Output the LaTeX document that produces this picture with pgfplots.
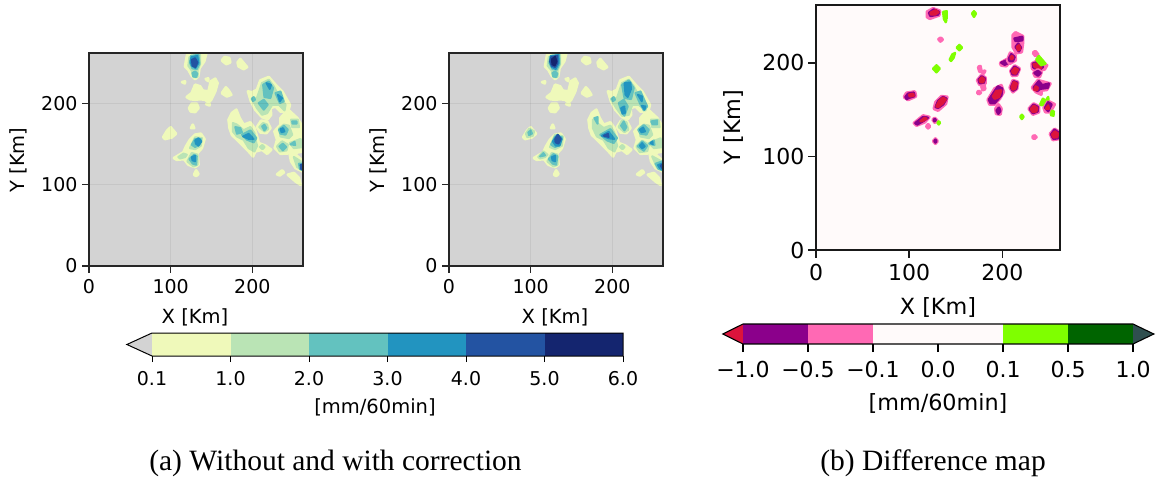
\documentclass[border=0pt]{standalone}
\usepackage{pgfplots}
\usepackage{fontspec}
\pgfplotsset{compat=1.18}
\setmainfont{DejaVu Sans}
\newfontfamily\capfont{Liberation Serif}
\definecolor{yl}{HTML}{EFF9BA}
\definecolor{gn}{HTML}{BAE4B5}
\definecolor{te}{HTML}{63C2BF}
\definecolor{bl}{HTML}{2294C0}
\definecolor{db}{HTML}{2353A2}
\definecolor{nv}{HTML}{14256F}
\definecolor{bg}{HTML}{D3D3D3}
\definecolor{sn}{HTML}{FFFAFA}
\definecolor{pk}{HTML}{FF69B4}
\definecolor{pu}{HTML}{8B008B}
\definecolor{cr}{HTML}{DC143C}
\definecolor{lg}{HTML}{7FFF00}
\definecolor{dg}{HTML}{006400}
\definecolor{sl}{HTML}{2F4F4F}
\tikzset{s-yl/.style={line width=2.8pt},s-gn/.style={line width=2.2pt},s-te/.style={line width=2pt},
 s-bl/.style={line width=1.8pt},s-db/.style={line width=1.8pt},s-nv/.style={line width=1.5pt},
 s-pk/.style={line width=3.2pt},s-pu/.style={line width=2.6pt},s-cr/.style={line width=2.4pt},s-lg/.style={line width=2.4pt}}
\newcommand\B[2]{\addplot[fill=#1,draw=#1,s-#1,line join=round] coordinates {#2} -- cycle;}
\newcommand\Yellow{%
\B{yl}{(322,42)(378,42)(372,65)(358,85)(354,110)(345,118)(335,108)(325,90)(315,80)(318,62)}
\B{yl}{(306,127)(315,125)(314,131)}
\B{yl}{(377,118)(384,116)(384,124)}
\B{yl}{(425,62)(433,52)(447,55)(450,68)(438,73)}
\B{yl}{(472,68)(480,58)(490,70)(500,82)(490,88)(475,80)}
\B{yl}{(320,172)(335,160)(345,135)(360,140)(368,153)(385,155)(392,125)(405,117)(412,130)(405,155)(393,180)(385,188)(375,180)(360,178)(345,180)(330,178)}
\B{yl}{(327,205)(335,192)(350,192)(355,205)(345,217)(332,215)}
\B{yl}{(425,160)(437,143)(445,152)(453,165)(440,170)(432,165)}
\B{yl}{(378,193)(388,192)(388,197)}
\B{yl}{(503,155)(515,158)(530,150)(540,122)(565,112)(585,135)(605,155)(628,195)(622,218)(600,215)(585,200)(570,205)(572,225)(562,238)(545,232)(525,210)(512,185)}
\B{yl}{(530,262)(542,243)(560,245)(570,265)(558,280)(540,278)}
\B{yl}{(600,235)(612,222)(625,212)(650,235)(662,255)(668,290)(668,335)(640,340)(600,342)(583,325)(590,300)(582,275)(600,255)}
\B{yl}{(628,345)(640,340)(668,365)(668,396)(645,385)(632,365)}
\B{yl}{(445,240)(455,220)(468,210)(478,235)(490,255)(510,248)(522,265)(530,290)(535,310)(555,318)(572,330)(560,342)(545,330)(525,335)(518,350)(505,335)(490,320)(470,300)(455,285)(448,265)}
\B{yl}{(250,292)(262,272)(272,263)(288,282)(275,293)(255,298)}
\B{yl}{(333,265)(338,255)(342,265)}
\B{yl}{(282,355)(310,338)(318,320)(330,300)(345,285)(362,282)(373,298)(365,325)(352,340)(355,375)(345,382)(325,375)(312,358)(290,360)}
\B{yl}{(342,405)(348,392)(355,403)(348,409)}
\B{yl}{(590,404)(605,392)(610,398)(598,407)}
\B{yl}{(622,405)(640,400)(655,415)(660,435)(645,425)}
}
\newcommand\AxL[2]{%
\begin{axis}[at={(#1pt,216pt)},anchor=south west,scale only axis,width=214pt,height=213pt,
 xmin=0,xmax=262,ymin=0,ymax=262,xtick={0,100,200},ytick={0,100,200},
 xticklabels={0,100,200},yticklabels={0,100,200},xtick pos=bottom,ytick pos=left,
 x filter/.code={\pgfmathparse{(##1-28)/2.44}},y filter/.code={\pgfmathparse{(679-##1)/2.44}},
 axis background/.style={fill=bg},
 axis line style={line width=1.4pt,black!85},tick style={line width=1.2pt,black!85},tick align=outside,
 major tick length=7pt,tick label style={font=\fontsize{19}{21}\selectfont},
 xticklabel style={yshift=-2.5pt},yticklabel style={xshift=-1pt},
 grid=major,grid style={black,opacity=0.06,line width=1.5pt},axis on top]
\Yellow
#2
\end{axis}}
\begin{document}
\begin{tikzpicture}[x=1pt,y=1pt]
\useasboundingbox (0,0) rectangle (1159,482);
% ---------- left panel
\AxL{89}{%
\B{gn}{(328,52)(360,46)(360,72)(352,92)(352,112)(340,112)(335,92)(325,78)}
\B{te}{(333,48)(355,45)(358,72)(350,88)(337,86)(330,70)}
\B{te}{(337,100)(345,95)(352,102)(348,112)(339,110)}
\B{bl}{(334,52)(352,48)(355,70)(346,85)(335,78)(331,65)}
\B{db}{(335,60)(345,55)(352,68)(346,82)(337,78)}
\B{gn}{(515,178)(530,175)(545,130)(565,120)(580,140)(590,160)(615,195)(612,212)(595,195)(575,195)(560,220)(545,225)(530,205)}
\B{te}{(548,135)(565,125)(578,145)(570,175)(552,172)}
\B{te}{(585,160)(600,155)(610,185)(598,190)}
\B{te}{(535,190)(550,180)(562,195)(550,210)}
\B{bl}{(558,130)(572,135)(568,148)}
\B{bl}{(592,165)(605,175)(598,185)}
\B{te}{(514,177)(520,172)(524,180)(518,184)}
\B{gn}{(537,262)(548,250)(560,255)(563,268)(552,275)}
\B{te}{(545,260)(552,255)(558,265)(552,272)}
\B{gn}{(597,265)(610,255)(625,258)(635,285)(625,295)(600,290)}
\B{te}{(595,270)(610,258)(622,270)(615,285)(600,282)}
\B{bl}{(600,268)(608,265)(612,275)(603,278)}
\B{gn}{(632,240)(652,240)(655,262)(635,262)}
\B{te}{(635,245)(648,245)(648,252)(636,252)}
\B{gn}{(590,320)(605,305)(622,315)(618,332)(598,335)}
\B{te}{(597,320)(607,312)(617,322)(607,332)}
\B{gn}{(628,310)(660,298)(666,322)(640,325)}
\B{te}{(630,314)(642,306)(644,316)}
\B{gn}{(640,352)(668,370)(668,392)(650,382)}
\B{te}{(655,372)(668,372)(668,392)(658,388)}
\B{db}{(660,375)(668,374)(668,390)(661,388)}
\B{gn}{(458,250)(470,255)(490,272)(510,262)(522,280)(525,300)(530,318)(522,335)(505,325)(490,300)(470,290)(458,275)}
\B{te}{(465,262)(480,265)(485,278)(470,282)}
\B{te}{(485,285)(510,272)(528,295)(520,308)(500,300)}
\B{bl}{(488,290)(505,282)(520,298)(505,298)}
\B{gn}{(539,322)(546,316)(552,322)(546,328)}
\B{gn}{(295,352)(310,342)(320,345)(315,352)(300,356)}
\B{gn}{(330,325)(345,293)(365,295)(362,318)(345,328)}
\B{gn}{(322,365)(335,340)(352,345)(352,375)(340,380)}
\B{te}{(335,315)(345,298)(362,298)(358,315)(345,322)}
\B{te}{(328,358)(342,345)(350,350)(348,375)(338,372)}
\B{bl}{(345,302)(355,295)(364,305)(355,318)(347,312)}
\B{bl}{(335,352)(345,348)(345,365)(337,362)}
}
% ---------- middle panel
\AxL{449}{%
\B{gn}{(326,52)(360,46)(360,72)(352,92)(352,112)(340,112)(335,92)(323,78)}
\B{te}{(331,50)(357,45)(358,72)(350,90)(337,88)(328,70)}
\B{te}{(337,100)(345,95)(352,102)(348,112)(339,110)}
\B{bl}{(332,48)(355,46)(356,70)(347,88)(335,82)(329,65)}
\B{db}{(333,52)(352,48)(352,70)(345,82)(335,78)(330,65)}
\B{nv}{(335,58)(345,50)(350,65)(344,78)(336,74)}
\B{gn}{(258,282)(268,267)(282,275)(278,288)(262,292)}
\B{te}{(265,278)(272,272)(276,282)(267,286)}
\B{gn}{(512,178)(530,175)(545,130)(565,120)(580,140)(590,160)(618,195)(615,212)(595,195)(575,195)(565,225)(545,228)(528,205)}
\B{te}{(545,135)(565,122)(580,145)(572,178)(552,175)}
\B{te}{(585,160)(600,155)(620,200)(610,212)(598,190)}
\B{te}{(535,190)(550,180)(562,200)(552,228)(542,212)}
\B{bl}{(552,130)(570,128)(572,148)(562,172)(555,165)}
\B{bl}{(592,165)(605,170)(604,185)}
\B{bl}{(604,198)(615,200)(612,210)}
\B{bl}{(542,205)(552,200)(554,220)(546,222)}
\B{te}{(514,177)(520,172)(524,180)(518,184)}
\B{gn}{(535,262)(545,242)(558,248)(563,270)(552,277)}
\B{te}{(542,258)(550,245)(558,262)(552,272)}
\B{gn}{(597,265)(610,255)(625,258)(635,285)(625,295)(600,290)}
\B{te}{(593,270)(610,256)(625,270)(618,285)(600,282)}
\B{bl}{(598,270)(608,263)(614,275)(603,278)}
\B{gn}{(632,240)(654,240)(657,262)(635,262)}
\B{te}{(632,245)(650,242)(650,254)(636,254)}
\B{gn}{(588,320)(605,303)(625,315)(620,334)(598,337)}
\B{te}{(592,320)(605,305)(620,318)(610,333)}
\B{bl}{(598,318)(605,310)(613,320)(605,326)}
\B{gn}{(625,310)(660,296)(666,322)(640,325)}
\B{te}{(626,312)(640,302)(642,316)}
\B{bl}{(630,310)(636,305)(637,314)}
\B{gn}{(635,350)(668,368)(668,392)(650,384)}
\B{te}{(645,372)(668,364)(668,392)(654,388)}
\B{bl}{(652,376)(668,370)(668,392)(658,386)}
\B{db}{(660,378)(668,372)(668,390)}
\B{gn}{(458,240)(470,250)(490,265)(510,258)(522,280)(525,300)(530,318)(522,335)(505,325)(490,300)(470,290)(458,265)}
\B{te}{(462,235)(472,232)(472,252)}
\B{te}{(480,285)(510,268)(530,295)(520,310)(500,302)}
\B{bl}{(484,288)(505,276)(522,298)(505,296)}
\B{db}{(490,288)(503,282)(505,292)}
\B{gn}{(539,322)(546,316)(552,322)(546,328)}
\B{gn}{(295,352)(310,335)(322,345)(315,352)(300,356)}
\B{te}{(300,350)(310,340)(315,347)}
\B{gn}{(330,322)(345,285)(368,290)(365,318)(345,328)}
\B{gn}{(322,365)(335,340)(352,345)(352,375)(340,380)}
\B{te}{(333,315)(345,290)(365,292)(360,315)(345,322)}
\B{te}{(326,358)(340,343)(352,350)(348,375)(338,372)}
\B{bl}{(338,305)(352,285)(365,298)(358,318)(347,318)}
\B{db}{(345,298)(353,285)(362,298)(355,312)(346,308)}
\B{bl}{(335,352)(345,348)(345,365)(337,362)}
}
% ---------- right panel
\begin{axis}[at={(816pt,232pt)},anchor=south west,scale only axis,width=244pt,height=245pt,
 xmin=0,xmax=262,ymin=0,ymax=262,xtick={0,100,200},ytick={0,100,200},
 xticklabels={0,100,200},yticklabels={0,100,200},xtick pos=bottom,ytick pos=left,
 x filter/.code={\pgfmathparse{(#1-18)/2.8}},y filter/.code={\pgfmathparse{(748-#1)/2.8}},
 axis background/.style={fill=sn},
 axis line style={line width=1.5pt,black!90},tick style={line width=1.3pt,black!90},tick align=outside,
 major tick length=8pt,tick label style={font=\fontsize{22}{24}\selectfont},
 xticklabel style={yshift=-3pt},axis on top]
\B{pk}{(352,35)(370,25)(390,32)(388,45)(360,55)(352,50)}
\B{pu}{(358,38)(372,28)(388,35)(385,43)(362,47)}
\B{cr}{(362,38)(378,30)(386,36)(376,43)(364,43)}
\B{lg}{(400,35)(411,33)(411,55)(403,58)}
\B{lg}{(405,60)(410,60)(408,66)}
\B{lg}{(487,40)(493,33)(499,40)(493,50)}
\B{pk}{(387,117)(393,113)(398,118)(392,123)}
\B{lg}{(441,142)(449,134)(457,142)(449,150)}
\B{lg}{(420,178)(428,162)(436,158)(432,172)(424,182)}
\B{lg}{(370,205)(380,195)(390,205)(380,216)}
\B{pk}{(283,290)(290,278)(315,274)(318,288)(295,298)}
\B{pu}{(287,290)(295,280)(312,277)(314,287)(295,293)(291,296)}
\B{cr}{(298,283)(310,280)(312,286)(300,288)}
\B{pk}{(373,325)(378,305)(395,288)(412,290)(408,310)(385,330)}
\B{pu}{(378,320)(385,302)(400,290)(410,295)(400,312)(385,322)}
\B{cr}{(380,318)(388,302)(400,292)(408,297)(398,310)(385,320)}
\B{pk}{(313,368)(340,346)(358,350)(345,365)(320,375)}
\B{pu}{(317,368)(340,350)(354,352)(340,362)(322,372)}
\B{cr}{(332,362)(345,352)(350,355)(338,362)}
\B{pk}{(369,358)(375,353)(382,360)(375,366)}
\B{pu}{(372,358)(376,356)(378,360)(374,362)}
\B{pk}{(350,377)(355,372)(360,378)(355,383)}
\B{pk}{(371,422)(377,415)(383,422)(377,429)}
\B{pu}{(374,422)(377,418)(380,422)(377,426)}
\B{lg}{(383,367)(387,363)(391,367)(387,372)}
\B{pk}{(503,240)(515,225)(527,232)(527,250)(510,253)}
\B{pu}{(507,238)(516,228)(526,235)(522,248)(510,248)}
\B{cr}{(510,238)(517,231)(524,237)(520,246)(512,245)}
\B{pk}{(506,200)(512,198)(514,210)(510,214)}
\B{pk}{(514,214)(526,212)(522,219)}
\B{pk}{(516,258)(524,255)(526,266)(519,269)}
\B{pk}{(503,276)(508,272)(513,277)(507,281)}
\B{pk}{(535,298)(555,265)(575,255)(582,275)(570,295)(555,312)(540,312)}
\B{pu}{(538,298)(557,270)(565,258)(578,265)(575,285)(555,308)(543,308)}
\B{cr}{(550,288)(560,272)(575,270)(568,290)(555,295)}
\B{pk}{(558,325)(567,313)(575,325)(572,342)(560,340)}
\B{pu}{(561,330)(568,322)(572,332)(566,340)}
\B{pk}{(601,262)(610,240)(625,245)(622,265)(610,275)}
\B{pu}{(604,262)(612,243)(623,247)(620,265)(610,271)}
\B{cr}{(606,260)(613,245)(622,250)(617,265)(609,268)}
\B{pk}{(603,212)(615,196)(630,205)(622,225)(608,226)}
\B{pu}{(605,212)(615,199)(628,207)(620,222)(609,222)}
\B{cr}{(608,212)(616,203)(625,208)(618,220)(610,218)}
\B{pk}{(572,188)(590,178)(600,185)(590,197)(575,195)}
\B{pu}{(575,187)(590,181)(596,188)(585,193)}
\B{pk}{(593,180)(602,158)(617,165)(618,180)(600,190)}
\B{pu}{(598,175)(605,162)(615,170)(610,182)(600,182)}
\B{cr}{(603,172)(607,167)(611,172)(606,177)}
\B{pk}{(610,105)(618,97)(640,108)(640,125)(636,155)(620,158)(610,140)}
\B{pu}{(615,115)(638,110)(638,120)(618,122)}
\B{pu}{(618,140)(626,130)(634,142)(628,153)}
\B{cr}{(622,140)(628,135)(632,145)(626,150)}
\B{pk}{(667,190)(680,183)(712,195)(705,207)(680,212)(668,205)}
\B{pu}{(670,190)(680,187)(700,200)(690,208)(672,202)}
\B{cr}{(672,192)(682,190)(695,202)(685,205)(674,198)}
\B{pk}{(672,218)(685,208)(696,215)(690,230)(677,228)}
\B{pu}{(675,218)(685,212)(693,218)(685,226)}
\B{pk}{(671,158)(677,153)(685,162)(678,167)}
\B{lg}{(680,178)(688,167)(708,190)(695,195)}
\B{pk}{(668,262)(685,240)(722,250)(712,268)(695,270)(695,282)(680,275)}
\B{pu}{(672,262)(688,243)(698,255)(718,250)(715,262)(692,265)(683,272)}
\B{cr}{(678,258)(685,262)(682,270)(674,268)}
\B{pk}{(658,325)(672,310)(688,318)(688,335)(670,342)}
\B{pu}{(661,326)(672,313)(685,320)(684,333)(670,338)}
\B{cr}{(664,326)(673,316)(683,323)(680,333)(670,335)}
\B{pk}{(703,322)(715,302)(735,312)(722,335)(708,335)}
\B{pu}{(707,322)(716,306)(726,312)(716,332)}
\B{cr}{(709,325)(716,315)(718,325)}
\B{lg}{(692,312)(700,295)(707,300)(698,315)}
\B{lg}{(711,297)(716,290)(717,297)}
\B{lg}{(724,344)(727,331)(733,333)(732,346)}
\B{lg}{(632,349)(637,343)(642,349)(637,356)}
\B{pk}{(722,400)(735,386)(750,395)(748,415)(730,418)}
\B{pu}{(725,402)(735,388)(749,398)(746,413)(732,415)}
\B{cr}{(728,402)(736,393)(746,400)(743,410)(732,411)}
\B{pk}{(669,410)(674,405)(680,410)(674,415)}
\end{axis}
% ---------- left colour bar
\begin{axis}[at={(152pt,126pt)},anchor=south west,scale only axis,width=471pt,height=23pt,clip=false,
 xmin=0,xmax=6,ymin=0,ymax=1,xtick={0,1,2,3,4,5,6},ytick=\empty,xtick pos=bottom,
 xticklabels={0.1,1.0,2.0,3.0,4.0,5.0,6.0},
 axis line style={draw=none},tick style={line width=1pt,black},tick align=outside,major tick length=6pt,
 tick label style={font=\fontsize{19}{21}\selectfont},xticklabel style={yshift=-6pt}]
\addplot[fill=bg,draw=none] coordinates {(-0.32,0.5)(0,1)(0,0)} -- cycle;
\addplot[fill=yl,draw=none] coordinates {(0,0)(1,0)(1,1)(0,1)} -- cycle;
\addplot[fill=gn,draw=none] coordinates {(1,0)(2,0)(2,1)(1,1)} -- cycle;
\addplot[fill=te,draw=none] coordinates {(2,0)(3,0)(3,1)(2,1)} -- cycle;
\addplot[fill=bl,draw=none] coordinates {(3,0)(4,0)(4,1)(3,1)} -- cycle;
\addplot[fill=db,draw=none] coordinates {(4,0)(5,0)(5,1)(4,1)} -- cycle;
\addplot[fill=nv,draw=none] coordinates {(5,0)(6,0)(6,1)(5,1)} -- cycle;
\addplot[draw=black,line width=1pt] coordinates {(-0.32,0.5)(0,1)(6,1)(6,0)(0,0)} -- cycle;
\end{axis}
% ---------- right colour bar
\begin{axis}[at={(743pt,138pt)},anchor=south west,scale only axis,width=390pt,height=20pt,clip=false,
 xmin=0,xmax=6,ymin=0,ymax=1,xtick={0,1,2,3,4,5,6},ytick=\empty,xtick pos=bottom,
 xticklabels={−1.0,−0.5,−0.1,0.0,0.1,0.5,1.0},
 axis line style={draw=none},tick style={line width=1.2pt,black},tick align=outside,major tick length=8pt,
 tick label style={font=\fontsize{22}{24}\selectfont},xticklabel style={yshift=-6pt}]
\addplot[fill=cr,draw=none] coordinates {(-0.31,0.5)(0,1)(0,0)} -- cycle;
\addplot[fill=pu,draw=none] coordinates {(0,0)(1,0)(1,1)(0,1)} -- cycle;
\addplot[fill=pk,draw=none] coordinates {(1,0)(2,0)(2,1)(1,1)} -- cycle;
\addplot[fill=sn,draw=none] coordinates {(2,0)(4,0)(4,1)(2,1)} -- cycle;
\addplot[fill=lg,draw=none] coordinates {(4,0)(5,0)(5,1)(4,1)} -- cycle;
\addplot[fill=dg,draw=none] coordinates {(5,0)(6,0)(6,1)(5,1)} -- cycle;
\addplot[fill=sl,draw=none] coordinates {(6,0)(6.32,0.5)(6,1)} -- cycle;
\addplot[draw=black,line width=1.1pt] coordinates {(-0.31,0.5)(0,1)(6,1)(6.32,0.5)(6,0)(0,0)} -- cycle;
\end{axis}
% ---------- labels
\begin{scope}[every node/.style={inner sep=0pt}]
\node[font=\fontsize{19.5}{21}\selectfont] at (195,165) {X [Km]};
\node[font=\fontsize{19.5}{21}\selectfont] at (555,165) {X [Km]};
\node[font=\fontsize{19.5}{21}\selectfont,rotate=90] at (18,322) {Y [Km]};
\node[font=\fontsize{19.5}{21}\selectfont,rotate=90] at (378,322) {Y [Km]};
\node[font=\fontsize{22.3}{24}\selectfont] at (938,174) {X [Km]};
\node[font=\fontsize{22.3}{24}\selectfont,rotate=90] at (733,355) {Y [Km]};
\node[font=\fontsize{19.5}{21}\selectfont] at (375,75) {[mm/60min]};
\node[font=\fontsize{22.3}{24}\selectfont] at (938,79) {[mm/60min]};
\node[font=\capfont\fontsize{29.5}{32}\selectfont] at (335.5,19) {(a) Without and with correction};
\node[font=\capfont\fontsize{29.5}{32}\selectfont] at (933,19) {(b) Difference map};
\end{scope}
\end{tikzpicture}
\end{document}
